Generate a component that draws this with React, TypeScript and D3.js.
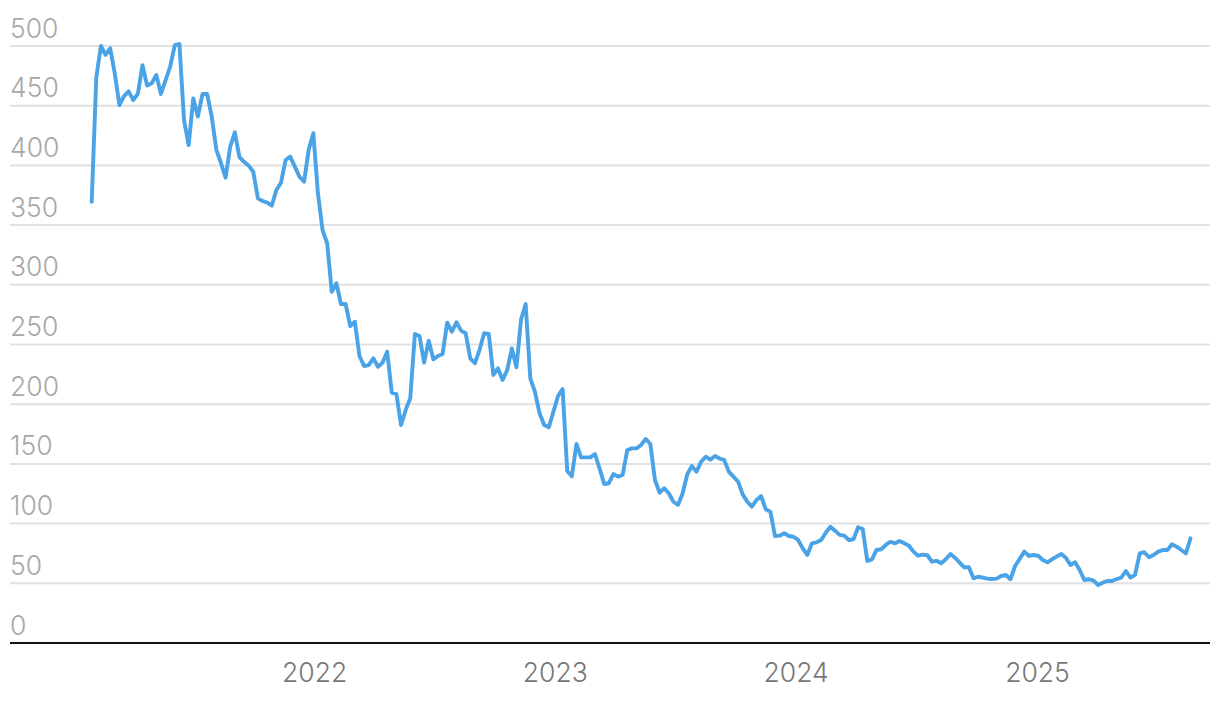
import React from "react";
import * as d3 from "d3";

const START_DATE = "2021-01-28";
const END_DATE = "2025-08-21";

// weekly values starting at START_DATE
const values: number[] = [
  369.6, 474, 500, 492.5, 498, 477, 450.6, 458, 462, 454.8,
  460, 484, 466.8, 468.8, 475.7, 459.8, 471.5, 482.7, 500.8, 501.7,
  438, 417, 456, 441, 459.8, 459.8, 440.8, 413, 402, 389.7,
  415.7, 427.7, 407, 403, 399.8, 394.7, 372.4, 370.2, 368.8, 366.3,
  379.4, 385.5, 404.5, 407.3, 399, 390.5, 386.4, 413, 427, 376.6,
  345.9, 334.8, 294.2, 301.3, 283.9, 283.9, 265.5, 269.1, 240.4, 232,
  232.8, 238.4, 231.4, 234.8, 244, 209.6, 208.5, 182.6, 195.1, 205,
  258.8, 257.1, 234.8, 253.2, 237.6, 240.4, 242, 268.3, 260.7, 268.6,
  261.6, 259.4, 238.4, 234.3, 245.4, 259.4, 258.8, 224.5, 230, 220.3,
  228.6, 246.8, 230.9, 271.1, 283.9, 221.7, 210.5, 192.4, 182.6, 180.6,
  193.7, 206.9, 212.7, 144, 139.6, 166.7, 155.5, 155.5, 155.5, 158.3,
  146.3, 133.2, 133.8, 141.5, 139.3, 140.7, 161.6, 163, 163, 165.8,
  170.9, 166.7, 136.5, 125.9, 129.6, 125.4, 118.3, 115.6, 125.4, 141.3,
  148.2, 143.5, 151.8, 156, 153.5, 156.7, 154.5, 153.3, 143.5, 139.3,
  135.1, 124.5, 118.3, 114.2, 119.8, 123.1, 112, 110, 89.6, 89.9,
  91.9, 89.6, 89, 86.3, 79.3, 73.7, 83.5, 84.3, 86.3, 92.4,
  97.4, 94.1, 90.5, 89.9, 86.3, 86.9, 96.9, 95.5, 68.7, 70.1,
  77.9, 78.5, 82.1, 84.8, 83.5, 85.4, 83.5, 81.5, 76.5, 73.1,
  74, 73.5, 68.1, 68.8, 66.8, 70.1, 74.5, 71.4, 67.3, 63.4,
  63.4, 54.2, 55.5, 54.7, 53.9, 53.6, 53.9, 56.1, 57, 53.4,
  64.5, 70.4, 76.5, 72.9, 73.7, 73.1, 69.5, 67.6, 70.1, 72.3,
  74.5, 71.4, 65.3, 67.6, 61.1, 52.8, 53.4, 52.2, 48.6, 50.5,
  51.9, 51.9, 53.6, 54.7, 60.3, 54.7, 57, 75.1, 76, 71.8,
  73.7, 76.5, 77.9, 77.9, 82.7, 80.7, 77.9, 75.1, 87.7,
];

const yTicks = [0, 50, 100, 150, 200, 250, 300, 350, 400, 450, 500];
const xTickYears = [2022, 2023, 2024, 2025];

const W = 1220;
const H = 702;

export default function App() {
  const parse = d3.utcParse("%Y-%m-%d");
  const start = parse(START_DATE)!;
  const end = parse(END_DATE)!;
  const data = values.map((v, i) => ({ date: d3.utcDay.offset(start, i * 7), value: v }));

  const x = d3.scaleUtc().domain([start, end]).range([91.7, 1190.5]);
  const y = d3.scaleLinear().domain([0, 500]).range([643, 46]);

  const line = d3
    .line<{ date: Date; value: number }>()
    .x((d) => x(d.date))
    .y((d) => y(d.value));

  const font = "Inter, 'Open Sans', sans-serif";

  return (
    <svg
      width={W}
      height={H}
      style={{ position: "absolute", left: 0, top: 0, background: "#fff" }}
    >
      {yTicks
        .filter((t) => t > 0)
        .map((t) => (
          <line key={"g" + t} x1={10} x2={1210} y1={y(t)} y2={y(t)} stroke="#e1e1e1" strokeWidth={2} />
        ))}
      {yTicks.map((t) => (
        <text
          key={"yl" + t}
          x={10}
          y={y(t) - 8.5}
          fontFamily={font}
          fontSize={26.5}
          fontWeight={300}
          fill="#a8a8a8"
        >
          {t}
        </text>
      ))}
      <path
        d={line(data) || ""}
        fill="none"
        stroke="#4aa3e6"
        strokeWidth={3.9}
        strokeLinejoin="round"
        strokeLinecap="round"
      />
      <line x1={10} x2={1210} y1={y(0)} y2={y(0)} stroke="#111" strokeWidth={2} />
      {xTickYears.map((yr) => (
        <text
          key={"xl" + yr}
          x={x(new Date(Date.UTC(yr, 0, 1)))}
          y={682}
          textAnchor="middle"
          fontFamily={font}
          fontSize={26.5}
          fontWeight={300}
          fill="#777"
        >
          {yr}
        </text>
      ))}
    </svg>
  );
}
